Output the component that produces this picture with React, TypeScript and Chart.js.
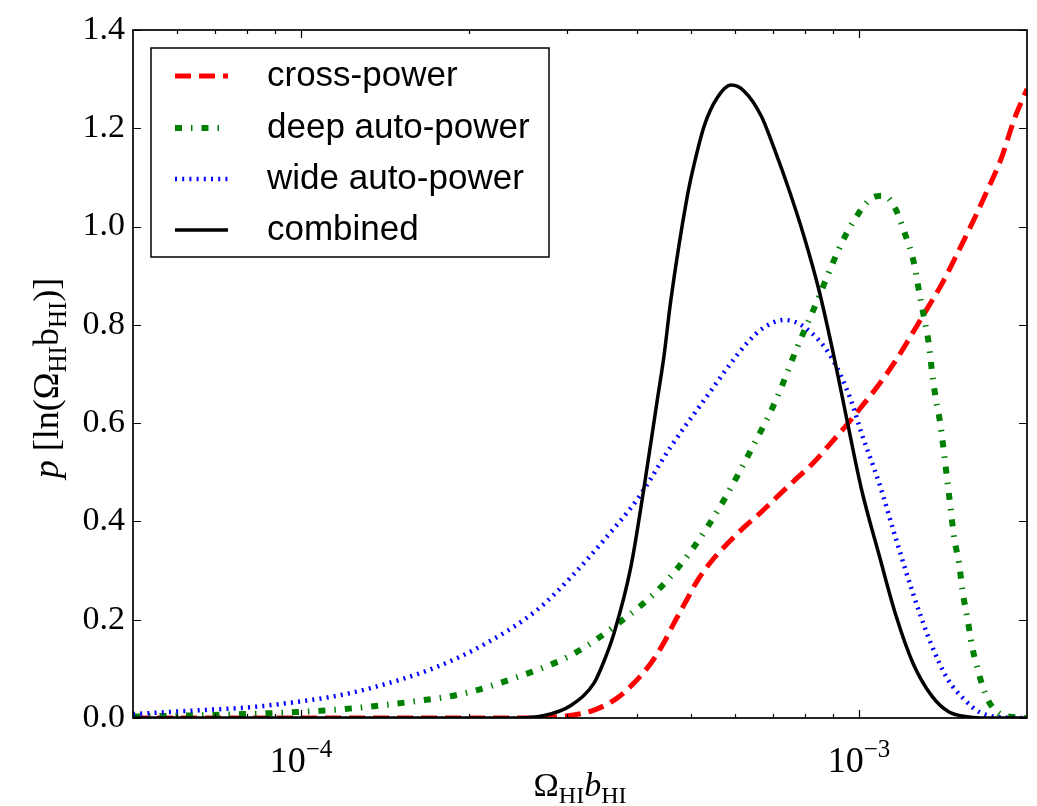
import React, { useEffect, useRef } from 'react';
import { Chart, registerables } from 'chart.js';

Chart.register(...registerables);

// ---------------- data ----------------
const crossX = [5.0e-5, 2.51e-4, 2.73e-4, 3.08e-4, 3.35e-4, 3.68e-4, 3.95e-4, 4.24e-4, 4.47e-4, 4.66e-4, 4.9e-4, 5.13e-4, 5.43e-4, 5.8e-4, 6.22e-4, 6.68e-4, 7.19e-4, 7.74e-4, 8.31e-4, 8.91e-4, 9.5e-4, 1.008e-3, 1.085e-3, 1.16e-3, 1.235e-3, 1.32e-3, 1.41e-3, 1.5e-3, 1.6e-3, 1.7e-3, 1.8e-3, 1.9e-3, 2.0e-3];
const crossY = [0, 0, 0.001, 0.006, 0.016, 0.04, 0.071, 0.112, 0.153, 0.193, 0.238, 0.279, 0.318, 0.354, 0.388, 0.419, 0.454, 0.488, 0.521, 0.56, 0.596, 0.632, 0.678, 0.725, 0.775, 0.83, 0.885, 0.945, 1.01, 1.075, 1.14, 1.22, 1.28];

const deepX = [5.0e-5, 6.25e-5, 7.84e-5, 9.84e-5, 1.245e-4, 1.574e-4, 1.959e-4, 2.437e-4, 3.05e-4, 3.68e-4, 4.42e-4, 5.06e-4, 5.73e-4, 6.4e-4, 7.1e-4, 7.74e-4, 8.31e-4, 9.28e-4, 9.79e-4, 1.055e-3, 1.108e-3, 1.16e-3, 1.209e-3, 1.252e-3, 1.279e-3, 1.305e-3, 1.333e-3, 1.351e-3, 1.371e-3, 1.4e-3, 1.42e-3, 1.44e-3, 1.46e-3, 1.48e-3, 1.511e-3, 1.533e-3, 1.565e-3, 1.594e-3, 1.638e-3, 1.702e-3, 1.79e-3, 1.891e-3, 2.0e-3];
const deepY = [0.003, 0.005, 0.008, 0.012, 0.02, 0.033, 0.05, 0.083, 0.128, 0.19, 0.267, 0.348, 0.444, 0.545, 0.647, 0.753, 0.834, 0.963, 1.012, 1.058, 1.063, 1.038, 0.985, 0.93, 0.873, 0.82, 0.763, 0.706, 0.653, 0.596, 0.539, 0.482, 0.425, 0.368, 0.315, 0.258, 0.201, 0.147, 0.092, 0.037, 0.008, 0.002, 0];

const wideX = [5.0e-5, 6.62e-5, 8.14e-5, 9.71e-5, 1.132e-4, 1.335e-4, 1.752e-4, 2.154e-4, 2.65e-4, 3.05e-4, 3.49e-4, 4.0e-4, 4.6e-4, 5.28e-4, 6.3e-4, 6.76e-4, 7.34e-4, 7.97e-4, 8.91e-4, 9.67e-4, 1.01e-3, 1.088e-3, 1.165e-3, 1.25e-3, 1.345e-3, 1.44e-3, 1.54e-3, 1.65e-3, 1.82e-3, 2.0e-3];
const wideY = [0.008, 0.016, 0.022, 0.032, 0.043, 0.061, 0.104, 0.153, 0.22, 0.287, 0.362, 0.444, 0.552, 0.647, 0.763, 0.795, 0.81, 0.796, 0.735, 0.647, 0.58, 0.476, 0.364, 0.253, 0.152, 0.08, 0.039, 0.011, 0.001, 0];

const combX = [5.0e-5, 2.0e-4, 2.44e-4, 2.73e-4, 3.05e-4, 3.35e-4, 3.49e-4, 3.64e-4, 3.9e-4, 4.12e-4, 4.35e-4, 4.47e-4, 4.6e-4, 4.92e-4, 5.06e-4, 5.28e-4, 5.57e-4, 5.9e-4, 6.22e-4, 6.68e-4, 7.04e-4, 7.49e-4, 7.97e-4, 8.48e-4, 9.02e-4, 9.52e-4, 1.01e-3, 1.088e-3, 1.165e-3, 1.25e-3, 1.35e-3, 1.45e-3, 1.55e-3, 1.65e-3, 2.0e-3];
const combY = [0, 0, 0, 0.005, 0.026, 0.071, 0.115, 0.173, 0.307, 0.47, 0.647, 0.735, 0.85, 1.06, 1.125, 1.205, 1.262, 1.288, 1.276, 1.225, 1.16, 1.075, 0.98, 0.87, 0.735, 0.605, 0.466, 0.329, 0.208, 0.111, 0.045, 0.012, 0.003, 0, 0];

const seriesLabels = ['cross-power', 'deep auto-power', 'wide auto-power', 'combined'];

const xMin = 5e-5;
const xMax = 2e-3;
const yMin = 0;
const yMax = 1.4;
const yStep = 0.2;
const xMajorTicks = [1e-4, 1e-3];
const xMajorExponents = ['\u22124', '\u22123'];
const xMinorTicks = [6e-5, 7e-5, 8e-5, 9e-5, 2e-4, 3e-4, 4e-4, 5e-4, 6e-4, 7e-4, 8e-4, 9e-4];

// ---------------- styling ----------------
const SERIF = '"Liberation Serif", "DejaVu Serif", serif';
const SANS = '"Liberation Sans", Arial, sans-serif';

const styles = [
  { color: '#ff0000', width: 5, dash: [16, 8] },
  { color: '#008000', width: 6, dash: [7, 9, 1.5, 9] },
  { color: '#0000ff', width: 4.5, dash: [2, 5.2] },
  { color: '#000000', width: 3.5, dash: [] as number[] },
];

type Part = { text: string; italic?: boolean; sub?: boolean; sup?: boolean };

function drawRich(ctx: CanvasRenderingContext2D, parts: Part[], size: number, cx: number, baseline: number) {
  const fontOf = (p: Part) => {
    const s = p.sub || p.sup ? Math.round(size * 0.7) : size;
    return `${p.italic ? 'italic ' : ''}${s}px ${SERIF}`;
  };
  const widths = parts.map((p) => {
    ctx.font = fontOf(p);
    return ctx.measureText(p.text).width;
  });
  const total = widths.reduce((a, b) => a + b, 0);
  let x = cx - total / 2;
  ctx.textAlign = 'left';
  ctx.textBaseline = 'alphabetic';
  parts.forEach((p, i) => {
    ctx.font = fontOf(p);
    const dy = p.sub ? size * 0.22 : p.sup ? -size * 0.42 : 0;
    ctx.fillText(p.text, x, baseline + dy);
    x += widths[i];
  });
}

const decorPlugin = {
  id: 'decor',
  afterDatasetsDraw(chart: any) {
    const { ctx, chartArea } = chart;
    const { left, right, top, bottom } = chartArea;
    const xs = chart.scales.x;
    const ys = chart.scales.y;
    ctx.save();
    ctx.fillStyle = '#000';
    ctx.strokeStyle = '#000';

    // frame
    ctx.lineWidth = 1.7;
    ctx.setLineDash([]);
    ctx.strokeRect(left, top, right - left, bottom - top);

    // inward ticks
    ctx.lineWidth = 1.2;
    const major = 8;
    const minor = 4;
    ctx.beginPath();
    ys.ticks.forEach((t: any) => {
      const y = Math.round(ys.getPixelForValue(t.value)) + 0.5;
      ctx.moveTo(left, y);
      ctx.lineTo(left + major, y);
      ctx.moveTo(right, y);
      ctx.lineTo(right - major, y);
    });
    xMajorTicks.forEach((v) => {
      const x = Math.round(xs.getPixelForValue(v)) + 0.5;
      ctx.moveTo(x, bottom);
      ctx.lineTo(x, bottom - major);
      ctx.moveTo(x, top);
      ctx.lineTo(x, top + major);
    });
    xMinorTicks.forEach((v) => {
      const x = Math.round(xs.getPixelForValue(v)) + 0.5;
      ctx.moveTo(x, bottom);
      ctx.lineTo(x, bottom - minor);
      ctx.moveTo(x, top);
      ctx.lineTo(x, top + minor);
    });
    ctx.stroke();

    // x tick labels 10^n
    xMajorTicks.forEach((v, i) => {
      const x = xs.getPixelForValue(v);
      drawRich(ctx, [{ text: '10' }, { text: xMajorExponents[i], sup: true }], 36, x, 772);
    });

    // x axis title
    drawRich(
      ctx,
      [{ text: '\u03A9' }, { text: 'HI', sub: true }, { text: 'b', italic: true }, { text: 'HI', sub: true }],
      34,
      (left + right) / 2,
      796
    );

    // y axis title
    ctx.save();
    ctx.translate(58, (top + bottom) / 2 + 4);
    ctx.rotate(-Math.PI / 2);
    drawRich(
      ctx,
      [
        { text: 'p', italic: true },
        { text: ' [ln(' },
        { text: '\u03A9' },
        { text: 'HI', sub: true },
        { text: 'b' },
        { text: 'HI', sub: true },
        { text: ')]' },
      ],
      36,
      0,
      0
    );
    ctx.restore();

    // legend
    const bx = 151;
    const by = 48;
    const bw = 398;
    const bh = 209;
    ctx.fillStyle = '#fff';
    ctx.fillRect(bx, by, bw, bh);
    ctx.lineWidth = 1.5;
    ctx.strokeStyle = '#000';
    ctx.strokeRect(bx, by, bw, bh);
    const rows = [76, 128, 179, 230];
    chart.data.datasets.forEach((ds: any, i: number) => {
      const y = rows[i];
      ctx.beginPath();
      ctx.strokeStyle = ds.borderColor;
      ctx.lineWidth = ds.borderWidth;
      ctx.setLineDash(ds.borderDash || []);
      ctx.lineCap = 'butt';
      ctx.moveTo(175, y);
      ctx.lineTo(228, y);
      ctx.stroke();
      ctx.setLineDash([]);
      ctx.fillStyle = '#000';
      ctx.font = `35px ${SANS}`;
      ctx.textAlign = 'left';
      ctx.textBaseline = 'middle';
      ctx.fillText(ds.label, 267, y);
    });
    ctx.restore();
  },
};

function pts(xs: number[], ys: number[]) {
  return xs.map((x, i) => ({ x, y: ys[i] }));
}

export default function App() {
  const ref = useRef<HTMLCanvasElement | null>(null);

  useEffect(() => {
    if (!ref.current) return;
    const series = [
      pts(crossX, crossY),
      pts(deepX, deepY),
      pts(wideX, wideY),
      pts(combX, combY),
    ];
    const chart = new Chart(ref.current, {
      type: 'line',
      data: {
        datasets: series.map((d, i) => ({
          label: seriesLabels[i],
          data: d,
          borderColor: styles[i].color,
          backgroundColor: styles[i].color,
          borderWidth: styles[i].width,
          borderDash: styles[i].dash,
          borderCapStyle: 'butt',
          borderJoinStyle: 'round',
          pointRadius: 0,
          fill: false,
          cubicInterpolationMode: 'monotone',
          clip: 0,
          order: 4 - i,
        })),
      },
      options: {
        animation: false,
        responsive: false,
        devicePixelRatio: 1,
        layout: { padding: { top: 30, right: 10, left: 0, bottom: 0 } },
        plugins: { legend: { display: false }, tooltip: { enabled: false } },
        scales: {
          x: {
            type: 'logarithmic',
            min: xMin,
            max: xMax,
            ticks: { display: false },
            grid: { display: false, drawTicks: false },
            border: { display: false },
            afterFit: (s: any) => {
              s.height = 88;
            },
          },
          y: {
            type: 'linear',
            min: yMin,
            max: yMax,
            ticks: {
              stepSize: yStep,
              callback: (v: any) => Number(v).toFixed(1),
              font: { family: SERIF, size: 34 },
              color: '#000',
              padding: 8,
            },
            grid: { display: false, drawTicks: false },
            border: { display: false },
            afterFit: (s: any) => {
              s.width = 133;
            },
          },
        },
      } as any,
      plugins: [decorPlugin],
    });
    return () => chart.destroy();
  }, []);

  return (
    <div style={{ position: 'fixed', left: 0, top: 0, width: 1037, height: 806, background: '#fff' }}>
      <canvas ref={ref} width={1037} height={806} style={{ display: 'block' }} />
    </div>
  );
}
